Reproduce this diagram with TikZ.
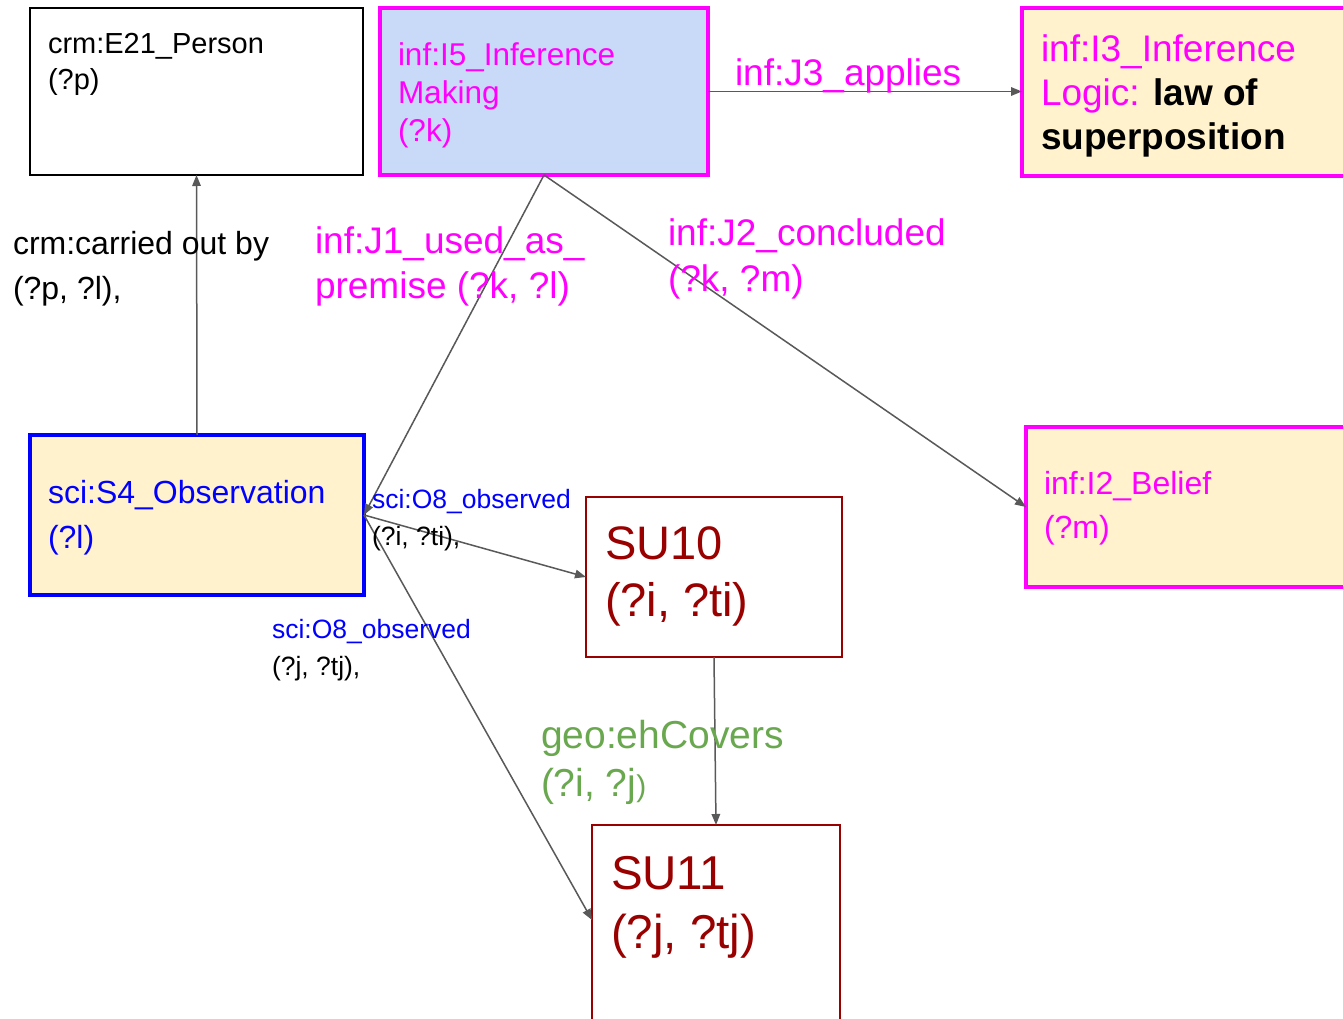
\documentclass[tikz,border=0pt]{standalone}
\usepackage{fontspec}
\setmainfont{Liberation Sans}
\usetikzlibrary{arrows.meta}
\definecolor{mag}{HTML}{FF00FF}
\definecolor{obsblue}{HTML}{0000FF}
\definecolor{dred}{HTML}{990000}
\definecolor{ggreen}{HTML}{6AA84F}
\definecolor{lblue}{HTML}{C9DAF8}
\definecolor{lyellow}{HTML}{FFF2CC}
\definecolor{connc}{HTML}{595959}
\newcommand\fz[2]{\fontsize{#1}{#2}\selectfont}
\begin{document}
\begin{tikzpicture}[x=1pt,y=-1pt,
  box/.style={draw, rectangle, anchor=north west, inner sep=0pt, outer sep=0pt},
  txt/.style={anchor=north west, inner sep=0pt, outer sep=0pt, align=left},
  conn/.style={draw=connc, line width=1.5pt, -{Triangle[length=11pt,width=8.5pt]}}]
\useasboundingbox (0,0) rectangle (1343,1019);
\clip (0,0) rectangle (1343,1019);
\fill[white] (0,0) rectangle (1343,1019);
% boxes
\node[box, draw=black, line width=2pt, minimum width=333pt, minimum height=167pt] (e21) at (30,8) {};
\node[box, draw=mag, fill=lblue, line width=4pt, minimum width=328pt, minimum height=167pt] (i5) at (380,8) {};
\node[box, draw=mag, fill=lyellow, line width=4pt, minimum width=400pt, minimum height=168pt] (i3) at (1022,8) {};
\node[box, draw=obsblue, fill=lyellow, line width=3.5pt, minimum width=334pt, minimum height=160pt] (s4) at (30,435) {};
\node[box, draw=mag, fill=lyellow, line width=4pt, minimum width=400pt, minimum height=160pt] (i2) at (1026,427) {};
\node[box, draw=dred, line width=1.8pt, minimum width=256pt, minimum height=160pt] (su10) at (586,497) {};
\node[box, draw=dred, line width=1.8pt, minimum width=248pt, minimum height=300pt] (su11) at (592,825) {};
% connectors
\draw[conn] (s4.north) -- (e21.south);
\draw[conn] (i5.east) -- (i5.east -| i3.west);
\draw[conn] (i5.south) -- (s4.east);
\draw[conn] (i5.south) -- (i2.west);
\draw[conn] (s4.east) -- (su10.west);
\draw[conn] (s4.east) -- ([yshift=-95pt]su11.north west);
\draw[conn] (su10.south) -- (su11.north);
% box texts
\node[txt, font=\fz{29}{36}] (e21t) at (48,33) {crm:E21\_Person\\(?p)};
\node[txt, text=mag, font=\fz{31.5}{38}] (i5t) at (398,43) {inf:I5\_Inference\\Making\\(?k)};
\node[txt, font=\fz{37}{44}] (i3t) at (1041,35) {\textcolor{mag}{inf:I3\_Inference}\\\textcolor{mag}{Logic:} \textbf{law of}\\\textbf{superposition}};
\node[txt, text=obsblue, font=\fz{32}{45}] (s4t) at (48,480) {sci:S4\_Observation\\(?l)};
\node[txt, text=mag, font=\fz{32}{44}] (i2t) at (1044,471) {inf:I2\_Belief\\(?m)};
\node[txt, text=dred, font=\fz{47}{57}] (su10t) at (605,527) {SU10\\(?i, ?ti)};
\node[txt, text=dred, font=\fz{47.5}{59}] (su11t) at (611,856) {SU11\\(?j, ?tj)};
% edge labels
\node[txt, text=mag, font=\fz{37}{44}] (j3) at (735,59) {inf:J3\_applies};
\node[txt, font=\fz{32}{45}] (carried) at (13,231) {crm:carried out by\\(?p, ?l),};
\node[txt, text=mag, font=\fz{37}{45}] (j1) at (315,227) {inf:J1\_used\_as\_\\premise (?k, ?l)};
\node[txt, text=mag, font=\fz{37}{46}] (j2) at (668,219) {inf:J2\_concluded\\(?k, ?m)};
\node[txt, font=\fz{26.5}{37}] (o8a) at (372,489) {\textcolor{obsblue}{sci:O8\_observed}\\(?i, ?ti),};
\node[txt, font=\fz{26.5}{37}] (o8b) at (272,619) {\textcolor{obsblue}{sci:O8\_observed}\\(?j, ?tj),};
\node[txt, text=ggreen, font=\fz{39}{48}] (geo) at (541,720) {geo:ehCovers\\(?i, ?j{\fz{30}{48})}};
\end{tikzpicture}
\end{document}
